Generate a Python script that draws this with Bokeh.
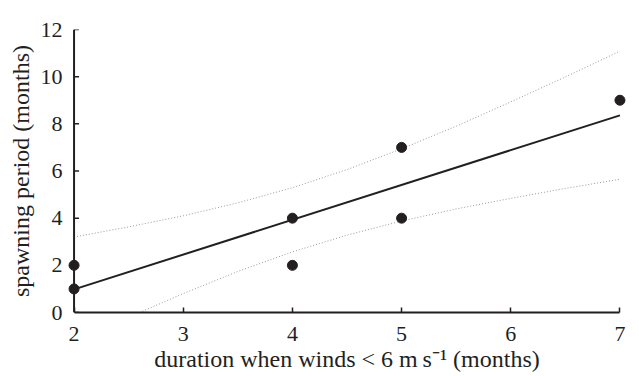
from bokeh.plotting import figure
from bokeh.models import FixedTicker, ColumnDataSource, Span
from bokeh.embed import file_html
from bokeh.resources import INLINE

# data
duration = [2, 2, 4, 4, 5, 5, 7]
spawning = [2, 1, 4, 2, 7, 4, 9]

fit_x = [2, 7]
fit_y = [0.98, 8.36]

band_x = [2, 2.5, 3, 3.5, 4, 4.5, 5, 5.5, 6, 6.5, 7]
band_upper = [3.20, 3.63, 4.10, 4.65, 5.29, 6.06, 6.94, 7.90, 8.93, 9.99, 11.08]
band_lower = [-1.25, -0.20, 0.80, 1.74, 2.57, 3.28, 3.88, 4.39, 4.84, 5.26, 5.65]

x_ticks = [2, 3, 4, 5, 6, 7]
y_ticks = [0, 2, 4, 6, 8, 10, 12]

FONT = "Liberation Serif"
INK = "#231f20"

X_MIN, X_MAX = 2, 7
Y_MIN, Y_MAX = 0, 12
PAD = 0.06                      # room so edge markers are not clipped
FRAME_W, FRAME_H = 559, 283
px_per_x = FRAME_W / (X_MAX - X_MIN + 2 * PAD)
TICK_LEN = 5 / px_per_x

p = figure(frame_width=FRAME_W, frame_height=FRAME_H,
           x_range=(X_MIN - PAD, X_MAX + PAD), y_range=(Y_MIN, Y_MAX),
           output_backend="svg", toolbar_location=None)
p.min_border_left = 67
p.min_border_right = 13
p.min_border_top = 29
p.min_border_bottom = 64
p.outline_line_color = None
p.background_fill_color = "white"
p.border_fill_color = "white"
p.xgrid.visible = False
p.ygrid.visible = False

src_pts = ColumnDataSource(dict(x=duration, y=spawning))
src_band = ColumnDataSource(dict(x=band_x, up=band_upper, lo=band_lower))

p.line("x", "up", source=src_band, line_color="#999999", line_width=1, line_dash="1 2")
p.line("x", "lo", source=src_band, line_color="#999999", line_width=1, line_dash="1 2")
p.line(fit_x, fit_y, line_color=INK, line_width=2)

# left spine at x = 2 with inward ticks
p.add_layout(Span(location=X_MIN, dimension="height", line_color=INK, line_width=2))
p.segment(x0=[X_MIN] * len(y_ticks), y0=y_ticks,
          x1=[X_MIN + TICK_LEN] * len(y_ticks), y1=y_ticks,
          line_color=INK, line_width=1.5)

p.scatter("x", "y", source=src_pts, size=10, fill_color=INK, line_color=INK)

for ax in (p.xaxis[0], p.yaxis[0]):
    ax.major_label_text_font = FONT
    ax.major_label_text_font_size = "22px"
    ax.major_label_text_color = INK
    ax.axis_label_text_font = FONT
    ax.axis_label_text_font_size = "24px"
    ax.axis_label_text_font_style = "normal"
    ax.axis_label_text_color = INK
    ax.minor_tick_line_color = None

xa = p.xaxis[0]
xa.bounds = (X_MIN, X_MAX)
xa.axis_line_color = INK
xa.axis_line_width = 2
xa.major_tick_line_color = INK
xa.major_tick_line_width = 1.5
xa.major_tick_in = 5
xa.major_tick_out = 0
xa.ticker = FixedTicker(ticks=x_ticks)
xa.axis_label = "duration when winds < 6 m\u2009s\u207b\u00b9 (months)"
xa.major_label_standoff = 14
xa.axis_label_standoff = 2

ya = p.yaxis[0]
ya.axis_line_color = None
ya.major_tick_line_color = None
ya.major_tick_in = 0
ya.major_tick_out = 0
ya.ticker = FixedTicker(ticks=y_ticks)
ya.axis_label = "spawning period (months)"
ya.major_label_standoff = 5
ya.axis_label_standoff = 4

open("out.html", "w").write(file_html(p, INLINE))
